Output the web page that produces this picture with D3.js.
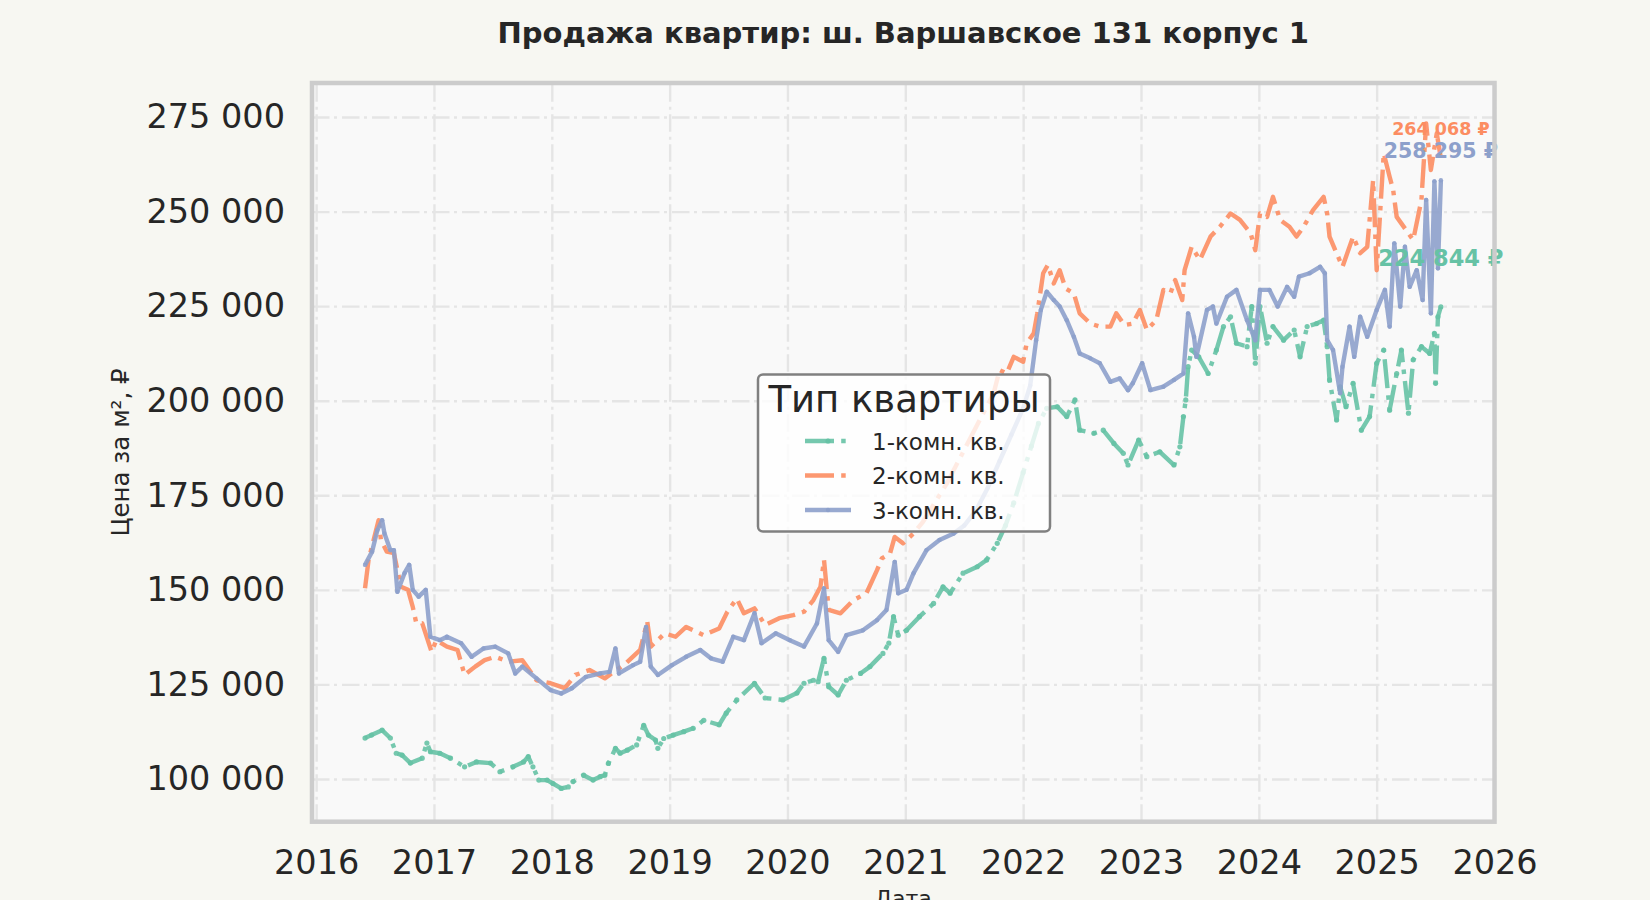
<!DOCTYPE html>
<html>
<head>
<meta charset="utf-8">
<script src="https://cdn.jsdelivr.net/npm/d3@7"></script>
<style>
  body { margin: 0; background: #f7f7f2; }
  svg { display: block; font-family: "DejaVu Sans", sans-serif; }
  .grid line { stroke: #e5e5e5; stroke-width: 2.4; stroke-dasharray: 17.5,4.5,3,5; }
  .grid path, .axis path, .axis line { display: none; }
  .axis text { font-family: "DejaVu Sans", sans-serif; font-size: 33.5px; fill: #262626; }
</style>
</head>
<body>
<div id="chart"></div>
<script>

// Series names and colours (Set2).
const seriesNames = ["1-комн. кв.", "2-комн. кв.", "3-комн. кв."];
const colors = ["#66c2a5", "#fc8d62", "#8da0cb"];

// Axis ticks.
const yearTicks = [2016, 2017, 2018, 2019, 2020, 2021, 2022, 2023, 2024, 2025, 2026];
const priceTicks = [100000, 125000, 150000, 175000, 200000, 225000, 250000, 275000];

// 1-комн.: dates as fractional years, price per m2.
const t1 = [2016.415, 2016.47, 2016.56, 2016.63, 2016.68, 2016.73, 2016.80, 2016.90, 2016.94, 2016.97,
  2017.05, 2017.14, 2017.26, 2017.36, 2017.48, 2017.56, 2017.67, 2017.76, 2017.80, 2017.84, 2017.89, 2017.96,
  2018.01, 2018.08, 2018.14, 2018.18, 2018.27, 2018.35, 2018.41, 2018.45, 2018.48, 2018.54, 2018.58, 2018.64,
  2018.72, 2018.78, 2018.82, 2018.88, 2018.90, 2018.95, 2019.03, 2019.12, 2019.20, 2019.29, 2019.42, 2019.48,
  2019.57, 2019.72, 2019.81, 2019.96, 2020.08, 2020.14, 2020.22, 2020.26, 2020.31, 2020.35, 2020.43, 2020.50,
  2020.62, 2020.70, 2020.81, 2020.86, 2020.90, 2020.94, 2021.01, 2021.12, 2021.24, 2021.32, 2021.38, 2021.49,
  2021.61, 2021.69, 2021.78, 2021.85, 2021.92, 2022.00, 2022.07, 2022.13, 2022.20, 2022.29, 2022.37, 2022.44,
  2022.48, 2022.60, 2022.68, 2022.77, 2022.85, 2022.89, 2022.98, 2023.05, 2023.16, 2023.28, 2023.33, 2023.36,
  2023.38, 2023.40, 2023.43, 2023.49, 2023.57, 2023.64, 2023.70, 2023.76, 2023.81, 2023.90, 2023.94, 2023.97,
  2024.01, 2024.07, 2024.12, 2024.21, 2024.30, 2024.35, 2024.41, 2024.49, 2024.55, 2024.58, 2024.60, 2024.66,
  2024.69, 2024.74, 2024.80, 2024.87, 2024.94, 2025.00, 2025.06, 2025.11, 2025.17, 2025.21, 2025.27, 2025.31,
  2025.38, 2025.45, 2025.49, 2025.50, 2025.52, 2025.545];
const v1 = [110800, 111600, 112900, 110800, 106800, 106300, 104200, 105500, 109500, 107200,
  106800, 105500, 103200, 104500, 104200, 101900, 103200, 104500, 105900, 103200, 99700, 99700,
  98800, 97500, 97900, 99300, 101000, 99700, 100600, 101000, 104100, 108100, 106800, 107600,
  109000, 114200, 111600, 110300, 108100, 110700, 111600, 112500, 113400, 115500, 114300, 117400,
  120900, 125300, 121400, 120900, 122700, 125300, 126100, 125700, 131900, 124400, 122200, 126100,
  127900, 129700, 133200, 135900, 142900, 138000, 139300, 142900, 146400, 150800, 149100, 154400,
  156100, 157900, 162300, 167000, 173000, 181000, 188000, 194000, 198000, 198400, 195800, 200200,
  192200, 191400, 192200, 188700, 186100, 183000, 189600, 185200, 186500, 183000, 187800, 195800,
  200200, 209000, 213400, 211600, 207200, 213400, 219600, 222200, 215200, 214300, 224900, 209900,
  224900, 215200, 219600, 216000, 218700, 211600, 219600, 220400, 221300, 214300, 205500, 194900,
  203700, 198400, 204600, 192200, 195800, 209900, 213400, 197500, 207200, 213400, 196700, 210800,
  214300, 212500, 217800, 204600, 222200, 224844];

// 2-комн.
const t2 = [2016.415, 2016.445, 2016.53, 2016.55, 2016.60, 2016.66, 2016.72, 2016.78, 2016.82, 2016.85,
  2016.90, 2016.98, 2017.02, 2017.11, 2017.20, 2017.26, 2017.35, 2017.43, 2017.52, 2017.63, 2017.75, 2017.87,
  2017.99, 2018.11, 2018.20, 2018.32, 2018.45, 2018.63, 2018.75, 2018.81, 2018.84, 2018.96, 2019.05, 2019.14,
  2019.29, 2019.42, 2019.49, 2019.57, 2019.63, 2019.72, 2019.81, 2019.93, 2020.05, 2020.14, 2020.22, 2020.28,
  2020.31, 2020.35, 2020.45, 2020.56, 2020.67, 2020.76, 2020.80, 2020.87, 2020.91, 2020.98, 2021.07, 2021.15,
  2021.25, 2021.35, 2021.45, 2021.55, 2021.65, 2021.75, 2021.80, 2021.86, 2021.92, 2022.00, 2022.03, 2022.09,
  2022.12, 2022.17, 2022.21, 2022.26, 2022.31, 2022.36, 2022.43, 2022.48, 2022.57, 2022.65, 2022.74, 2022.79,
  2022.86, 2022.93, 2022.99, 2023.05, 2023.13, 2023.19, 2023.25, 2023.29, 2023.35, 2023.37, 2023.43, 2023.50,
  2023.59, 2023.67, 2023.76, 2023.84, 2023.93, 2023.97, 2024.01, 2024.07, 2024.12, 2024.18, 2024.26, 2024.32,
  2024.38, 2024.46, 2024.55, 2024.58, 2024.60, 2024.66, 2024.71, 2024.80, 2024.86, 2024.92, 2024.97, 2025.00,
  2025.06, 2025.11, 2025.14, 2025.17, 2025.25, 2025.31, 2025.38, 2025.42, 2025.46, 2025.51, 2025.545];
const v2 = [150400, 157900, 168400, 163200, 160100, 159700, 150800, 150000, 145500, 141200,
  141200, 133600, 136700, 135000, 134100, 127500, 129700, 131400, 132300, 131000, 131400, 126100,
  125300, 124000, 127500, 128800, 126600, 130600, 134100, 141600, 135000, 138500, 137600, 140200,
  138000, 139800, 144200, 147700, 143800, 145100, 140700, 142500, 143300, 144200, 147300, 150800,
  157900, 144700, 143800, 147300, 149100, 155200, 158300, 159600, 164000, 162300, 164900, 168000,
  173000, 178000, 184000, 190000, 196000, 202000, 208100, 207200, 211600, 210300, 215200, 217800,
  223100, 233700, 235900, 231000, 234500, 229700, 228400, 223100, 220400, 219600, 219600, 223100,
  220000, 220400, 224000, 218700, 221300, 229300, 228400, 231900, 226600, 234500, 240700, 237200,
  243400, 246000, 249500, 247800, 244300, 239800, 249500, 248600, 253900, 247800, 246000, 243400,
  246000, 250400, 253900, 249500, 243400, 239000, 235400, 243400, 239000, 240700, 258300, 234500,
  265400, 259200, 255700, 248600, 245100, 242500, 253100, 273300, 261000, 270700, 264068];

// 3-комн.
const t3 = [2016.415, 2016.475, 2016.52, 2016.56, 2016.58, 2016.63, 2016.66, 2016.69, 2016.75, 2016.79,
  2016.82, 2016.87, 2016.93, 2016.97, 2017.05, 2017.11, 2017.23, 2017.32, 2017.42, 2017.52, 2017.63, 2017.69,
  2017.75, 2017.87, 2017.99, 2018.08, 2018.17, 2018.29, 2018.41, 2018.49, 2018.54, 2018.57, 2018.69, 2018.75,
  2018.80, 2018.84, 2018.90, 2019.02, 2019.14, 2019.26, 2019.35, 2019.45, 2019.54, 2019.63, 2019.72, 2019.78,
  2019.90, 2020.02, 2020.14, 2020.25, 2020.31, 2020.35, 2020.43, 2020.50, 2020.64, 2020.76, 2020.84, 2020.91,
  2020.94, 2021.01, 2021.07, 2021.18, 2021.29, 2021.41, 2021.50, 2021.60, 2021.70, 2021.80, 2021.90, 2022.00,
  2022.06, 2022.11, 2022.15, 2022.20, 2022.26, 2022.31, 2022.37, 2022.43, 2022.48, 2022.57, 2022.65, 2022.74,
  2022.82, 2022.89, 2022.93, 2023.01, 2023.08, 2023.19, 2023.28, 2023.36, 2023.40, 2023.45, 2023.47, 2023.56,
  2023.61, 2023.64, 2023.73, 2023.81, 2023.90, 2023.97, 2024.01, 2024.09, 2024.16, 2024.24, 2024.30, 2024.34,
  2024.43, 2024.52, 2024.56, 2024.58, 2024.63, 2024.69, 2024.71, 2024.77, 2024.81, 2024.86, 2024.92, 2025.00,
  2025.07, 2025.11, 2025.15, 2025.20, 2025.24, 2025.28, 2025.34, 2025.39, 2025.42, 2025.46, 2025.49, 2025.52,
  2025.545];
const v3 = [156600, 160100, 165800, 168400, 164900, 160500, 160500, 149500, 154400, 156600,
  150000, 148200, 150000, 137600, 136700, 137600, 135900, 132300, 134500, 135000, 133200, 127900,
  129700, 126600, 123500, 122600, 124000, 127000, 127900, 128300, 134500, 127900, 130100, 131000,
  140200, 129700, 127500, 130100, 132300, 134100, 131900, 131000, 137600, 136700, 143800, 135900,
  138500, 136700, 135000, 141100, 150400, 136700, 133600, 138000, 139300, 142000, 144700, 157400,
  149100, 150000, 154400, 160500, 163200, 164900, 167000, 171000, 177000, 184000, 191000, 198000,
  204000, 216000, 224000, 228800, 226600, 224900, 221300, 216900, 212500, 211200, 209900, 205000,
  205900, 202800, 204600, 209900, 202800, 203700, 205500, 207200, 223100, 216900, 211600, 224000,
  224900, 220400, 227500, 229300, 221300, 216000, 229300, 229300, 224900, 230100, 227500, 232800,
  233700, 235400, 233700, 216000, 213400, 202000, 209000, 219600, 211600, 222200, 216900, 224000,
  229300, 219600, 241600, 224900, 240700, 230100, 234500, 226600, 253100, 223100, 258000, 235000,
  258295];

const times = [t1, t2, t3];
const values = [v1, v2, v3];

// Line look per series: dash-dot for the first two, markers, end label size and lift.
const lineStyles = [
  { dash: "29,7.2,4.5,7.2", marker: 2.6, labelSize: 22.5, labelDy: -41 },
  { dash: "29,7.2,4.5,7.2", marker: 0,   labelSize: 17.5, labelDy: -23 },
  { dash: null,             marker: 2.2, labelSize: 20.5, labelDy: -22 }
];


// Dimensions of chart.
const W = 1650, H = 900;
const margin = { top: 83, right: 155.5, bottom: 78.3, left: 312 },
      width = W - margin.left - margin.right,
      height = H - margin.top - margin.bottom;

const svg = d3.select("#chart").append("svg")
    .attr("width", W)
    .attr("height", H);

svg.append("rect")
    .attr("width", W).attr("height", H)
    .attr("fill", "#f7f7f2");

const g = svg.append("g")
    .attr("transform", "translate(" + margin.left + "," + margin.top + ")");

g.append("rect")
    .attr("width", width).attr("height", height)
    .attr("fill", "#f9f9f9");

g.append("clipPath").attr("id", "clip")
  .append("rect").attr("width", width).attr("height", height);


// Scales.
const x = d3.scaleLinear()
    .domain([2015.965, 2026])
    .range([0, width]);

const y = d3.scaleLinear()
    .domain([88700, 284000])
    .range([height, 0]);

// Russian style number format: "275 000".
const ru = d3.formatLocale({ decimal: ",", thousands: " ", grouping: [3], currency: ["", " ₽"] });
const fmt = ru.format(",d");


// Grid.
g.append("g")
    .attr("class", "grid")
    .call(d3.axisLeft(y).tickValues(priceTicks).tickSize(-width).tickFormat(""));
g.append("g")
    .attr("class", "grid")
    .attr("transform", "translate(0," + height + ")")
    .call(d3.axisBottom(x).tickValues(yearTicks).tickSize(-height).tickFormat(""));


// Axes labels.
g.append("g")
    .attr("class", "axis")
    .call(d3.axisLeft(y).tickValues(priceTicks).tickSize(0).tickPadding(27).tickFormat(fmt));
g.append("g")
    .attr("class", "axis")
    .attr("transform", "translate(0," + height + ")")
    .call(d3.axisBottom(x).tickValues(yearTicks).tickSize(0).tickPadding(29).tickFormat(d3.format("d")));


// Lines.
const line = d3.line()
    .x(d => x(d[0]))
    .y(d => y(d[1]));

const series = seriesNames.map((name, i) => ({
    name: name,
    color: colors[i],
    style: lineStyles[i],
    points: times[i].map((t, j) => [t, values[i][j]])
}));

const plot = g.append("g").attr("clip-path", "url(#clip)");

series.forEach(s => {
    plot.append("path")
        .datum(s.points)
        .attr("fill", "none")
        .attr("stroke", s.color)
        .attr("stroke-opacity", 0.9)
        .attr("stroke-width", 4.4)
        .attr("stroke-linejoin", "round")
        .attr("stroke-dasharray", s.style.dash)
        .attr("d", line);
    if (s.style.marker > 0) {
        plot.append("g")
            .selectAll("circle")
            .data(s.points)
            .join("circle")
            .attr("cx", d => x(d[0]))
            .attr("cy", d => y(d[1]))
            .attr("r", s.style.marker)
            .attr("fill", s.color)
            .attr("fill-opacity", 0.9);
    }
});

// Last price labels.
series.forEach(s => {
    const last = s.points[s.points.length - 1];
    g.append("text")
        .attr("x", x(last[0]))
        .attr("y", y(last[1]) + s.style.labelDy)
        .attr("text-anchor", "middle")
        .attr("font-weight", "bold")
        .attr("font-size", s.style.labelSize)
        .attr("fill", s.color)
        .text(fmt(last[1]) + " ₽");
});


// Frame.
g.append("rect")
    .attr("width", width).attr("height", height)
    .attr("fill", "none")
    .attr("stroke", "#cccccc")
    .attr("stroke-width", 4.5);


// Titles.
svg.append("text")
    .attr("x", margin.left + width / 2)
    .attr("y", 43)
    .attr("text-anchor", "middle")
    .attr("font-weight", "bold")
    .attr("font-size", 29)
    .attr("fill", "#262626")
    .text("Продажа квартир: ш. Варшавское 131 корпус 1");

svg.append("text")
    .attr("transform", "translate(129," + (margin.top + 369.5) + ") rotate(-90)")
    .attr("text-anchor", "middle")
    .attr("font-size", 24.5)
    .attr("fill", "#262626")
    .text("Цена за м², ₽");

svg.append("text")
    .attr("x", margin.left + width / 2)
    .attr("y", 906)
    .attr("text-anchor", "middle")
    .attr("font-size", 22)
    .attr("fill", "#262626")
    .text("Дата");


// Legend
const legend = svg.append("g")
    .attr("transform", "translate(758,374.5)");
legend.append("rect")
    .attr("width", 292).attr("height", 157)
    .attr("rx", 5)
    .attr("fill", "#ffffff")
    .attr("fill-opacity", 0.8)
    .attr("stroke", "#808080")
    .attr("stroke-width", 2.5);
legend.append("text")
    .attr("x", 146).attr("y", 37)
    .attr("text-anchor", "middle")
    .attr("font-size", 37)
    .attr("fill", "#262626")
    .text("Тип квартиры");

const item = legend.selectAll("g.item")
    .data(series)
    .join("g")
    .attr("class", "item")
    .attr("transform", (d, i) => "translate(0," + (75 + i * 34.5) + ")");
item.append("line")
    .attr("x1", 47).attr("x2", 93)
    .attr("y1", -8.5).attr("y2", -8.5)
    .attr("stroke", d => d.color)
    .attr("stroke-opacity", 0.9)
    .attr("stroke-width", 4.4)
    .attr("stroke-dasharray", d => d.style.dash);
item.filter(d => d.style.marker > 0).append("circle")
    .attr("cx", 70).attr("cy", -8.5)
    .attr("r", d => d.style.marker)
    .attr("fill", d => d.color);
item.append("text")
    .attr("x", 114)
    .attr("font-size", 23)
    .attr("fill", "#262626")
    .text(d => d.name);

</script>
</body>
</html>
